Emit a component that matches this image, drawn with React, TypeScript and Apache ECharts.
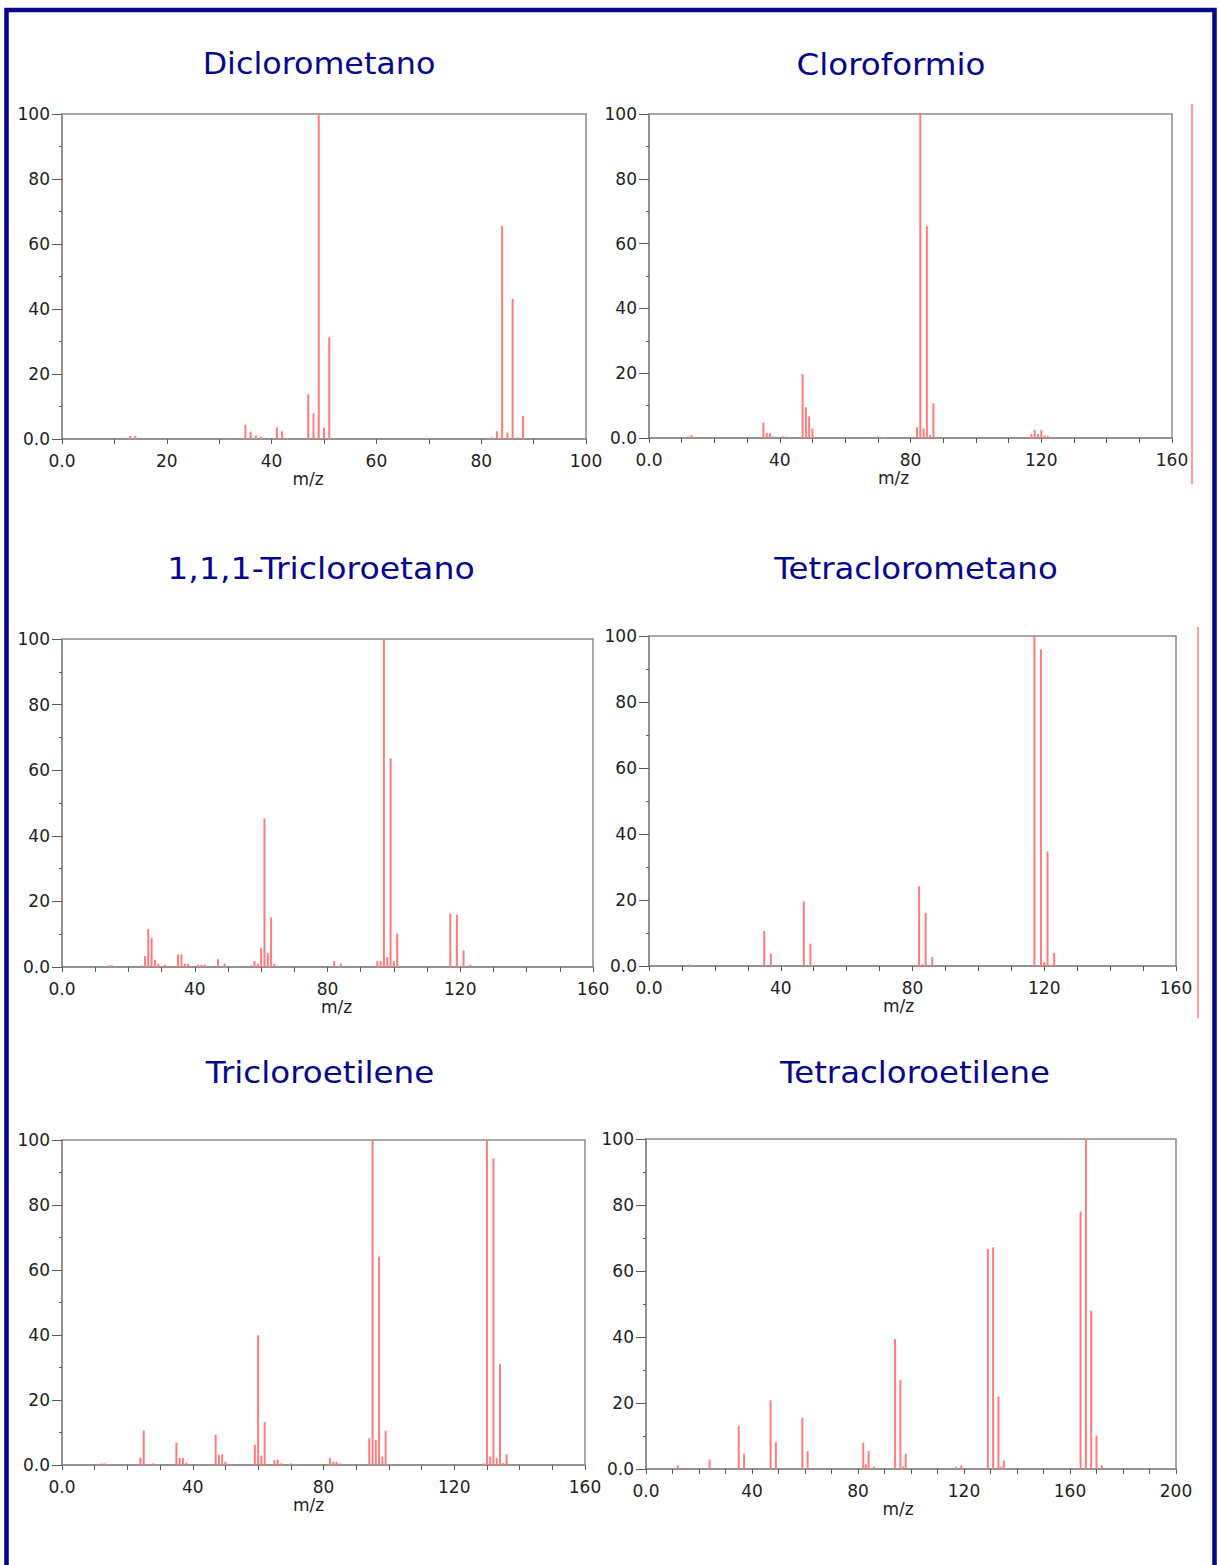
import { useEffect, useRef } from "react";
import * as echarts from "echarts";

// ---- Spectra: m/z values and relative intensities (%) ----
const dcmTitle = "Diclorometano";
const dcmMz = [12, 13, 14, 24, 28, 29, 31, 32, 35, 36, 37, 38, 41, 42, 43, 47, 48, 49, 50, 51, 52, 70, 82, 83, 84, 85, 86, 87, 88];
const dcmInt = [0.4, 1.0, 1.0, 0.3, 0.3, 0.2, 0.3, 0.3, 4.4, 2.3, 1.1, 0.7, 3.6, 2.4, 0.3, 13.8, 7.9, 100, 3.5, 31.3, 0.3, 0.3, 0.5, 2.4, 65.6, 2.0, 43.1, 0.5, 7.1];

const chlTitle = "Cloroformio";
const chlMz = [12, 13, 35, 36, 37, 38, 41, 42, 47, 48, 49, 50, 70, 72, 82, 83, 84, 85, 86, 87, 88, 117, 118, 119, 120, 121, 122];
const chlInt = [0.5, 0.9, 4.8, 1.5, 1.5, 0.5, 0.5, 0.5, 19.7, 9.5, 6.7, 2.9, 0.5, 0.3, 3.3, 100, 2.9, 65.5, 0.9, 10.7, 0.3, 1.2, 2.5, 1.2, 2.5, 0.7, 0.7];

const tcaTitle = "1,1,1-Tricloroetano";
const tcaMz = [14, 15, 18, 24, 25, 26, 27, 28, 29, 30, 31, 35, 36, 37, 38, 41, 42, 43, 44, 47, 49, 56, 57, 58, 59, 60, 61, 62, 63, 64, 82, 84, 95, 96, 97, 98, 99, 100, 101, 117, 119, 121, 123];
const tcaInt = [0.5, 0.6, 0.3, 0.5, 3.3, 11.6, 8.8, 2.2, 1.0, 0.3, 0.7, 3.8, 3.8, 1.0, 1.0, 0.7, 0.7, 0.7, 0.3, 2.4, 1.0, 0.3, 0.5, 1.8, 1.0, 5.8, 45.3, 4.3, 15.1, 1.0, 1.8, 1.0, 1.8, 1.8, 100, 3.0, 63.7, 1.8, 10.2, 16.3, 15.9, 5.0, 0.7];

const ctcTitle = "Tetraclorometano";
const ctcMz = [12, 35, 37, 47, 49, 82, 83, 84, 86, 117, 119, 120, 121, 122, 123];
const ctcInt = [0.5, 10.6, 3.7, 19.6, 6.8, 24.2, 0.5, 16.1, 2.7, 100, 96.0, 1.2, 34.7, 0.3, 4.0];

const tceTitle = "Tricloroetilene";
const tceMz = [12, 13, 24, 25, 26, 28, 30, 35, 36, 37, 38, 47, 48, 49, 50, 59, 60, 61, 62, 65, 66, 67, 70, 72, 82, 83, 84, 85, 94, 95, 96, 97, 98, 99, 129, 130, 131, 132, 133, 134, 135, 136];
const tceInt = [0.5, 0.5, 2.2, 10.6, 0.3, 0.5, 0.3, 6.9, 2.2, 2.2, 0.7, 9.3, 3.1, 3.3, 1.0, 6.2, 39.9, 2.9, 13.2, 1.5, 1.7, 0.5, 0.5, 0.3, 2.2, 1.0, 1.0, 0.5, 8.2, 100, 7.7, 64.1, 2.6, 10.5, 0.5, 100, 2.6, 94.3, 2.2, 31.0, 0.7, 3.3];

const pceTitle = "Tetracloroetilene";
const pceMz = [12, 24, 35, 37, 47, 49, 59, 61, 82, 83, 84, 86, 94, 96, 97, 98, 117, 119, 129, 131, 133, 134, 135, 164, 166, 168, 170, 172];
const pceInt = [1.1, 2.9, 13.0, 4.7, 20.8, 8.1, 15.5, 5.4, 8.0, 1.4, 5.5, 0.7, 39.4, 27.0, 0.7, 4.6, 0.7, 1.1, 66.7, 67.2, 22.0, 0.7, 2.6, 78.0, 100, 48.0, 10.1, 1.1];

// Axis ranges (m/z maximum, labelled step)
const xMaxes = [100, 160, 160, 160, 160, 200];
const xSteps = [20, 40, 40, 40, 40, 40];
const yMax = 100;
const yStep = 20;
const xName = "m/z";

// ---- Styling & layout ----
const FONT = '"DejaVu Sans", Verdana, sans-serif';
const NAVY = "#07078c";
const PEAK = "#ff7c7c";
const FRAME = "#8c8c8c";
const TICK = "#5a5a5a";
const LABEL = "#1e1e1e";

const spectra = [
  { title: dcmTitle, mz: dcmMz, rel: dcmInt },
  { title: chlTitle, mz: chlMz, rel: chlInt },
  { title: tcaTitle, mz: tcaMz, rel: tcaInt },
  { title: ctcTitle, mz: ctcMz, rel: ctcInt },
  { title: tceTitle, mz: tceMz, rel: tceInt },
  { title: pceTitle, mz: pceMz, rel: pceInt },
];

// plot rectangles in page pixels, title centre and width stretch, horizontal nudge of the m/z caption
const layout = [
  { left: 62, top: 114, width: 524, height: 325, tx: 319, ty: 63, stretch: 1.025, nameShift: -16 },
  { left: 649, top: 114, width: 523, height: 324, tx: 891, ty: 64, stretch: 1.05, nameShift: -17 },
  { left: 62, top: 639, width: 531, height: 328, tx: 321, ty: 568, stretch: 1.07, nameShift: 9 },
  { left: 649, top: 636, width: 527, height: 330, tx: 916, ty: 568, stretch: 1.045, nameShift: -14 },
  { left: 62, top: 1140, width: 523, height: 325, tx: 320, ty: 1072, stretch: 1.05, nameShift: -15 },
  { left: 646, top: 1139, width: 530, height: 330, tx: 915, ty: 1072, stretch: 1.045, nameShift: -13 },
];

const fmt = (v: number) => (v === 0 ? "0.0" : String(v));

function buildOption() {
  const grid = layout.map((g) => ({
    left: g.left,
    top: g.top,
    width: g.width,
    height: g.height,
    show: true,
    borderColor: FRAME,
    borderWidth: 1.5,
    backgroundColor: "transparent",
  }));

  const xAxis = spectra.map((_, i) => {
    const shift = layout[i].nameShift;
    return {
      type: "value",
      gridIndex: i,
      min: 0,
      max: xMaxes[i],
      interval: xSteps[i],
      axisLine: { show: true, onZero: false, lineStyle: { color: FRAME, width: 1.5 } },
      axisTick: { show: true, length: 5, lineStyle: { color: TICK } },
      minorTick: { show: true, splitNumber: xSteps[i] / 10, length: 5, lineStyle: { color: TICK } },
      splitLine: { show: false },
      minorSplitLine: { show: false },
      axisLabel: {
        formatter: fmt,
        fontFamily: FONT,
        fontSize: 17,
        color: LABEL,
        margin: 13,
        showMinLabel: true,
        showMaxLabel: true,
      },
      name: xName,
      nameLocation: "middle",
      nameGap: 31,
      nameTextStyle: {
        fontFamily: FONT,
        fontSize: 17,
        color: LABEL,
        padding: shift < 0 ? [0, -2 * shift, 0, 0] : [0, 0, 0, 2 * shift],
      },
    };
  });

  const yAxis = spectra.map((_, i) => ({
    type: "value",
    gridIndex: i,
    min: 0,
    max: yMax,
    interval: yStep,
    axisLine: { show: true, onZero: false, lineStyle: { color: FRAME, width: 1.5 } },
    axisTick: { show: true, length: 10, lineStyle: { color: TICK } },
    minorTick: { show: true, splitNumber: 2, length: 3, lineStyle: { color: TICK } },
    splitLine: { show: false },
    minorSplitLine: { show: false },
    axisLabel: {
      formatter: fmt,
      fontFamily: FONT,
      fontSize: 17,
      color: LABEL,
      margin: 12,
      showMinLabel: true,
      showMaxLabel: true,
    },
  }));

  const series = spectra.map((s, i) => ({
    type: "bar",
    name: s.title,
    xAxisIndex: i,
    yAxisIndex: i,
    barWidth: 2,
    silent: true,
    itemStyle: { color: PEAK },
    data: s.mz.map((m, k) => [m, s.rel[k]]),
  }));

  const titles = spectra.map((s, i) => ({
    type: "text",
    x: layout[i].tx,
    y: layout[i].ty,
    scaleX: layout[i].stretch,
    silent: true,
    style: {
      text: s.title,
      fill: NAVY,
      font: `31px ${FONT}`,
      align: "center",
      verticalAlign: "middle",
      textAlign: "center",
      textVerticalAlign: "middle",
    },
  }));

  const graphic = [
    // page frame (open at the bottom edge of the page)
    {
      type: "rect",
      silent: true,
      shape: { x: 6.5, y: 10, width: 1208, height: 1620 },
      style: { fill: "none", stroke: NAVY, lineWidth: 4.5 },
    },
    // thin red rules at the right of the CHCl3 and CCl4 panels
    {
      type: "line",
      silent: true,
      shape: { x1: 1192, y1: 104, x2: 1192, y2: 484 },
      style: { stroke: PEAK, lineWidth: 1.5 },
    },
    {
      type: "line",
      silent: true,
      shape: { x1: 1198, y1: 627, x2: 1198, y2: 1018 },
      style: { stroke: PEAK, lineWidth: 1.5 },
    },
    ...titles,
  ];

  return {
    animation: false,
    backgroundColor: "#ffffff",
    grid,
    xAxis,
    yAxis,
    series,
    graphic,
  };
}

export default function App() {
  const ref = useRef<HTMLDivElement>(null);

  useEffect(() => {
    if (!ref.current) return;
    const chart = echarts.init(ref.current, null, { renderer: "svg" });
    chart.setOption(buildOption() as any);
    return () => chart.dispose();
  }, []);

  return (
    <div
      ref={ref}
      style={{ position: "absolute", left: 0, top: 0, width: 1219, height: 1565, background: "#fff" }}
    />
  );
}
